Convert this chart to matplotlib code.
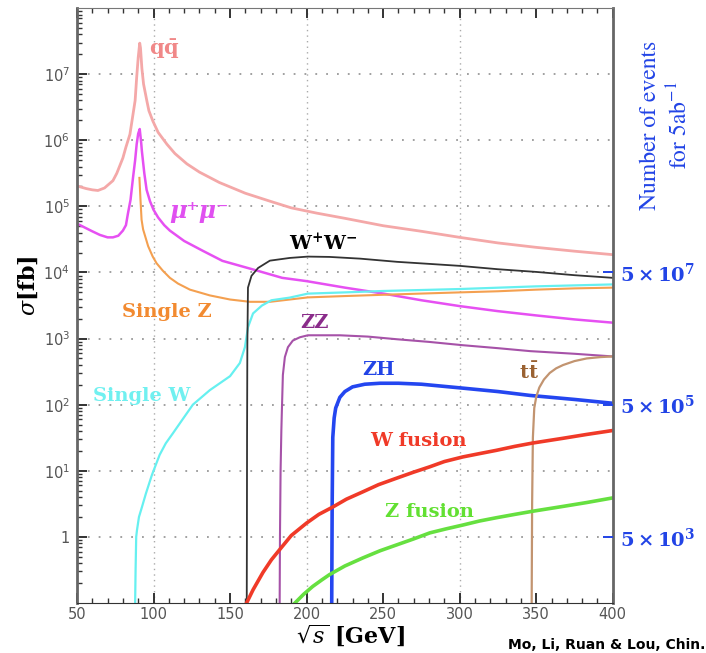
import matplotlib
matplotlib.use("Agg")
import matplotlib.pyplot as plt
from matplotlib.ticker import FixedLocator, LogLocator, NullFormatter, MultipleLocator

plt.rcParams['mathtext.fontset'] = 'stix'

# Cross sections (fb) versus centre-of-mass energy (GeV)
qq_x = [50, 56, 60, 63.7, 68, 73.5, 76, 80, 82, 84.6, 86, 88, 89, 90, 91, 91.5, 92.4, 93.5, 95.7, 97,
        99.6, 103, 108.8, 114, 121.8, 130, 143, 160, 176, 190, 206.7, 225, 250, 275, 300, 325, 350, 375, 400]
qq_s = [2.04e5, 1.86e5, 1.78e5, 1.74e5, 1.9e5, 2.45e5, 3.16e5, 5.4e5, 7.9e5, 1.23e6, 2.0e6, 4.0e6, 8.9e6, 1.78e7, 2.95e7,
        2.5e7, 1.23e7, 7.1e6, 3.9e6, 2.8e6, 1.95e6, 1.32e6, 8.7e5, 6.3e5, 4.4e5, 3.3e5, 2.3e5, 1.58e5, 1.2e5, 9.5e4,
        7.9e4, 6.6e4, 5.1e4, 4.2e4, 3.4e4, 2.8e4, 2.4e4, 2.1e4, 1.86e4]

mumu_x = [50, 55, 60, 65, 70, 73.5, 77, 80, 82, 83.3, 85, 86.6, 88, 89, 90, 91, 92, 92.4, 94, 95.5,
          97.7, 100, 103, 107, 110.7, 120, 132, 145, 167.5, 184, 200, 225, 250, 275, 300, 325, 350, 375, 400]
mumu_s = [5.5e4, 4.8e4, 4.2e4, 3.7e4, 3.4e4, 3.4e4, 3.6e4, 4.3e4, 5.2e4, 7.8e4, 1.26e5, 2.7e5, 5.0e5, 8.7e5, 1.26e6,
          1.48e6, 8.9e5, 6.9e5, 3.16e5, 1.78e5, 1.2e5, 8.9e4, 6.8e4, 5.2e4, 4.3e4, 3.0e4, 2.14e4, 1.5e4, 1.07e4, 8.3e3,
          7.4e3, 5.9e3, 4.8e3, 3.8e3, 3.1e3, 2.6e3, 2.24e3, 1.95e3, 1.74e3]

sz_x = [90.8, 91.5, 92.2, 93.2, 96.5, 99.5, 102, 106, 110.7, 116, 123.8, 136.8, 150, 163, 176, 189, 200.8,
        225, 250, 275, 300, 325, 350, 375, 400]
sz_s = [2.7e5, 1.26e5, 6.3e4, 4.5e4, 2.5e4, 1.74e4, 1.38e4, 1.07e4, 8.3e3, 6.8e3, 5.5e3, 4.5e3, 3.9e3, 3.6e3, 3.6e3,
        3.9e3, 4.2e3, 4.4e3, 4.6e3, 4.8e3, 5.0e3, 5.2e3, 5.5e3, 5.75e3, 5.9e3]

sw_x = [88, 88.3, 88.7, 89.2, 90.5, 92.4, 95, 99, 104, 108, 112.7, 119, 125.7, 136.8, 150, 156.4, 159.7, 161.7,
        165, 170.8, 177, 189, 200.8, 225, 250, 275, 300, 350, 400]
sw_s = [0.1, 0.32, 1.0, 1.26, 2.0, 2.8, 4.5, 8.7, 17.4, 26, 37, 60, 100, 166, 270, 427, 740, 1480,
        2400, 3160, 3800, 4170, 4790, 5000, 5250, 5430, 5620, 6170, 6600]

ww_x = [160.9, 161.0, 161.1, 161.3, 161.7, 164, 168.3, 176, 189, 200.8, 215, 235, 259, 280, 300, 325, 350, 375, 400]
ww_s = [0.1, 1, 30, 800, 5900, 8900, 1.17e4, 1.51e4, 1.66e4, 1.74e4, 1.72e4, 1.62e4, 1.45e4, 1.35e4, 1.26e4,
        1.12e4, 1.02e4, 9.1e3, 8.3e3]

zz_x = [182.4, 182.6, 183, 183.5, 183.8, 184.5, 185.8, 187.8, 191, 195.6, 200.8, 221.7, 240, 259, 280, 302,
        325, 346, 375, 400]
zz_s = [0.1, 1, 10, 40, 74, 282, 525, 741, 933, 1047, 1122, 1122, 1072, 977, 891, 794, 716, 646, 589, 537]

zh_x = [216.4, 216.7, 217.1, 218.0, 219, 221.7, 225, 230, 238, 248, 260, 275, 302, 325, 346, 375, 400]
zh_s = [0.1, 3.2, 32, 63, 89, 129, 158, 186, 204, 211, 211, 204, 178, 158, 138, 120, 105]

tt_x = [347, 347.3, 347.8, 348.7, 350, 352, 355, 358.8, 363, 367.5, 375, 383, 392, 400]
tt_s = [0.1, 3.2, 32, 89, 132, 182, 240, 302, 355, 398, 457, 501, 525, 537]

wf_x = [160.8, 165, 171.5, 177, 182.6, 190, 200, 208, 217, 226, 236.6, 247, 259, 270, 280.5, 290, 302, 313,
        324, 336, 347.7, 367, 383, 400]
wf_s = [0.1, 0.158, 0.29, 0.45, 0.65, 1.05, 1.62, 2.19, 2.82, 3.72, 4.79, 6.17, 7.76, 9.55, 11.5, 13.8, 16.2,
        18.2, 20.4, 23.4, 26.3, 30.9, 35.5, 40.7]

zf_x = [192.4, 198, 204, 210, 215, 225, 236.6, 248, 259, 270, 280.5, 291, 302, 313, 324, 336, 348, 367, 383, 400]
zf_s = [0.1, 0.135, 0.178, 0.224, 0.269, 0.363, 0.479, 0.617, 0.759, 0.933, 1.15, 1.32, 1.51, 1.74, 1.95,
        2.19, 2.45, 2.88, 3.31, 3.89]

x_ticks = [50, 100, 150, 200, 250, 300, 350, 400]
y_ticks = [1, 1e1, 1e2, 1e3, 1e4, 1e5, 1e6, 1e7]
y_tick_labels = ['1', r'$10^{1}$', r'$10^{2}$', r'$10^{3}$', r'$10^{4}$', r'$10^{5}$', r'$10^{6}$', r'$10^{7}$']
event_ticks = [1e4, 1e2, 1]
event_labels = [r'$\mathbf{5\times10^{7}}$', r'$\mathbf{5\times10^{5}}$', r'$\mathbf{5\times10^{3}}$']

fig = plt.figure(figsize=(7.06, 6.53), dpi=100)
ax = fig.add_axes([0.109, 0.0766, 0.759, 0.911])
ax.set_yscale('log')
ax.set_xlim(50, 400)
ax.set_ylim(0.1, 1e8)

# dotted reference grid
for gx in [100, 200, 300]:
    ax.axvline(gx, color='#aaaaaa', ls=(0, (1, 3)), lw=1.0, zorder=0)
for gy in y_ticks:
    ax.axhline(gy, color='#999999', ls=(0, (1, 5)), lw=1.3, zorder=0)

ax.plot(qq_x, qq_s, color='#f4a8a8', lw=2.0)
ax.plot(mumu_x, mumu_s, color='#e650f2', lw=1.8)
ax.plot(sz_x, sz_s, color='#f4a050', lw=1.5)
ax.plot(sw_x, sw_s, color='#66f0f0', lw=1.6)
ax.plot(ww_x, ww_s, color='#333333', lw=1.3)
ax.plot(zz_x, zz_s, color='#a652a8', lw=1.5)
ax.plot(zh_x, zh_s, color='#2446f0', lw=2.6)
ax.plot(tt_x, tt_s, color='#c29470', lw=1.6)
ax.plot(wf_x, wf_s, color='#f03a28', lw=2.6)
ax.plot(zf_x, zf_s, color='#66e040', lw=2.6)

serif = 'DejaVu Serif'
lab = dict(fontfamily=serif, fontweight='bold', fontsize=14, ha='center', va='center')
mlab = dict(math_fontfamily='dejavuserif', ha='center', va='center')
ax.text(107, 10**7.38, r'$\mathbf{q\bar{q}}$', color='#f08888', fontsize=15, **mlab)
ax.text(130, 10**4.93, 'μ⁺μ⁻', color='#e050f0', fontsize=17, fontfamily=serif, fontweight='bold',
        fontstyle='italic', ha='center', va='center')
ax.text(211, 10**4.45, r'$\mathbf{W^{+}W^{-}}$', color='black', fontsize=14, **mlab)
ax.text(109, 10**3.40, 'Single Z', color='#f28a30', **lab)
ax.text(205, 10**3.24, 'ZZ', color='#8a2c8a', **lab)
ax.text(92, 10**2.13, 'Single W', color='#70f0f0', **lab)
ax.text(247, 10**2.52, 'ZH', color='#2244e6', **lab)
ax.text(345, 10**2.49, r'$\mathbf{t\bar{t}}$', color='#9a6232', fontsize=14, **mlab)
ax.text(273, 10**1.45, 'W fusion', color='#f03a28', **lab)
ax.text(280, 10**0.38, 'Z fusion', color='#62e032', **lab)

ax.xaxis.set_major_locator(FixedLocator(x_ticks))
ax.xaxis.set_minor_locator(MultipleLocator(10))
ax.set_xticklabels([str(v) for v in x_ticks])
ax.yaxis.set_major_locator(FixedLocator(y_ticks))
ax.set_yticklabels(y_tick_labels)
for t in ax.get_yticklabels():
    t.set_math_fontfamily('dejavusans')
ax.yaxis.set_minor_locator(LogLocator(base=10, subs=range(2, 10), numticks=20))
ax.yaxis.set_minor_formatter(NullFormatter())
ax.tick_params(axis='both', which='both', direction='in', colors='#333333', labelcolor='#555555', labelsize=10.5)
ax.tick_params(axis='x', which='both', top=True)
ax.tick_params(axis='y', which='both', right=False)
ax.tick_params(which='major', length=7, width=1.4)
ax.tick_params(which='minor', length=3.5, width=1.0)
ax.tick_params(axis='x', pad=3)
ax.tick_params(axis='y', pad=5)

for side in ['left', 'right']:
    ax.spines[side].set_color('#666666')
    ax.spines[side].set_linewidth(2.0)
ax.spines['bottom'].set_color('#333333')
ax.spines['top'].set_color('#777777')

ax.set_xlabel(r'$\sqrt{s}\ \mathbf{[GeV]}$', fontsize=16, math_fontfamily='dejavuserif', va='center')
ax.xaxis.set_label_coords(0.51, -0.054)
ax.set_ylabel(r'$\sigma\mathbf{[fb]}$', fontsize=16, math_fontfamily='dejavuserif', va='center')
ax.yaxis.set_label_coords(-0.091, 0.534)

axr = ax.twinx()
axr.set_yscale('log')
axr.set_ylim(0.1, 1e8)
axr.yaxis.set_major_locator(FixedLocator(event_ticks))
axr.set_yticklabels(event_labels)
for t in axr.get_yticklabels():
    t.set_math_fontfamily('dejavuserif')
axr.yaxis.set_minor_locator(FixedLocator([]))
axr.tick_params(axis='y', direction='in', colors='#2244e6', labelcolor='#2244e6', labelsize=14, length=7, width=1.4, pad=5)
axr.set_ylabel('Number of events\nfor 5ab$^{-1}$', fontfamily='STIXGeneral', fontsize=17,
               color='#2244e6', rotation=90, linespacing=1.3, ha='center', va='center')
axr.yaxis.set_label_coords(1.099, 0.803)
for s in axr.spines.values():
    s.set_visible(False)

fig.text(0.720, 0.023, 'Mo, Li, Ruan & Lou, Chin.', fontfamily='DejaVu Sans', fontweight='bold',
         fontsize=10, color='black', ha='left', va='top')

fig.savefig('out.png', dpi=100)
